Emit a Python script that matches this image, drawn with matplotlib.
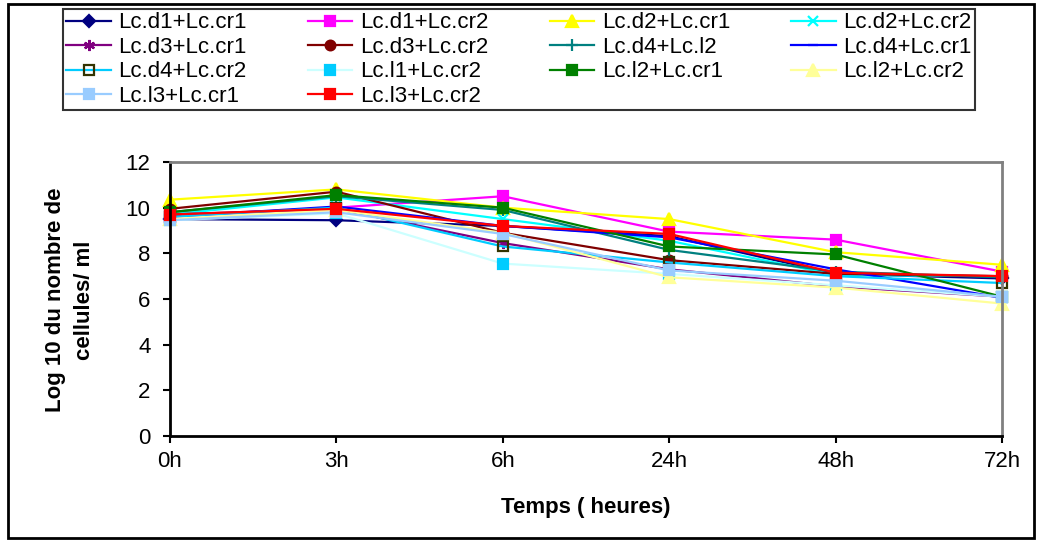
import matplotlib
matplotlib.use("Agg")
import matplotlib.pyplot as plt
from matplotlib.patches import Rectangle

plt.rcParams['font.family'] = ['Liberation Sans', 'DejaVu Sans']

times = ["0h", "3h", "6h", "24h", "48h", "72h"]

d1_cr1 = [9.5, 9.45, 9.2, 8.75, 7.1, 6.9]
d1_cr2 = [9.6, 10.0, 10.5, 8.95, 8.6, 7.2]
d2_cr1 = [10.35, 10.8, 10.0, 9.5, 8.05, 7.5]
d2_cr2 = [9.7, 10.45, 9.5, 8.55, 7.05, 7.0]
d3_cr1 = [9.7, 9.95, 8.45, 7.3, 6.55, 6.1]
d3_cr2 = [9.95, 10.7, 8.9, 7.7, 7.1, 7.0]
d4_l2 = [9.8, 10.5, 9.9, 8.15, 7.2, 6.95]
d4_cr1 = [9.6, 10.05, 9.2, 8.7, 7.3, 6.05]
d4_cr2 = [9.6, 10.0, 8.3, 7.6, 7.0, 6.7]
l1_cr2 = [9.45, 9.75, 7.55, 7.1, 6.6, 6.1]
l2_cr1 = [9.8, 10.55, 10.0, 8.3, 7.95, 6.1]
l2_cr2 = [9.5, 9.9, 8.9, 6.95, 6.5, 5.8]
l3_cr1 = [9.45, 9.8, 8.85, 7.25, 6.8, 6.1]
l3_cr2 = [9.7, 9.95, 9.2, 8.85, 7.15, 7.0]

names = ["Lc.d1+Lc.cr1", "Lc.d1+Lc.cr2", "Lc.d2+Lc.cr1", "Lc.d2+Lc.cr2",
         "Lc.d3+Lc.cr1", "Lc.d3+Lc.cr2", "Lc.d4+Lc.l2", "Lc.d4+Lc.cr1",
         "Lc.d4+Lc.cr2", "Lc.l1+Lc.cr2", "Lc.l2+Lc.cr1", "Lc.l2+Lc.cr2",
         "Lc.l3+Lc.cr1", "Lc.l3+Lc.cr2"]
series = [d1_cr1, d1_cr2, d2_cr1, d2_cr2, d3_cr1, d3_cr2, d4_l2, d4_cr1,
          d4_cr2, l1_cr2, l2_cr1, l2_cr2, l3_cr1, l3_cr2]

# (line colour, marker, marker face, marker edge, marker size)
styles = [
    ("#000080", "D", "#000080", "#000080", 6),
    ("#FF00FF", "s", "#FF00FF", "#FF00FF", 7),
    ("#FFFF00", "^", "#FFFF00", "#FFFF00", 9),
    ("#00FFFF", "x", "#00FFFF", "#00FFFF", 7),
    ("#800080", (6, 2, 0), "#800080", "#800080", 8),
    ("#800000", "o", "#800000", "#800000", 7),
    ("#008080", "+", "#008080", "#008080", 8),
    ("#0000FF", "_", "#0000FF", "#0000FF", 7),
    ("#00CCFF", "s", "none", "#333300", 7),
    ("#CCFFFF", "s", "#00CCFF", "#00CCFF", 7),
    ("#008000", "s", "#008000", "#008000", 7),
    ("#FFFF99", "^", "#FFFF99", "#FFFF99", 9),
    ("#99CCFF", "s", "#99CCFF", "#99CCFF", 7),
    ("#FF0000", "s", "#FF0000", "#FF0000", 7),
]

fig = plt.figure(figsize=(10.4, 5.4), dpi=100)
ax = fig.add_axes([170/1040, 1-436/540, (1002-170)/1040, (436-162)/540])

x = list(range(len(times)))
handles = []
for name, vals, (lc, mk, mf, me, ms) in zip(names, series, styles):
    h, = ax.plot(x, vals, color=lc, lw=1.6, marker=mk, markerfacecolor=mf,
                 markeredgecolor=me, markersize=ms, markeredgewidth=1.6,
                 label=name, clip_on=False)
    handles.append(h)

ax.set_xlim(0, 5)
ax.set_ylim(0, 12)
ax.set_yticks(range(0, 13, 2))
ax.set_xticks(x)
ax.set_xticklabels(times)
ax.tick_params(axis='both', labelsize=16, direction='out', length=5, width=1.5,
               colors='black')
ax.tick_params(axis='x', pad=6)
ax.tick_params(axis='y', pad=9)
for s in ['left', 'bottom']:
    ax.spines[s].set_color('black')
    ax.spines[s].set_linewidth(2)
for s in ['top', 'right']:
    ax.spines[s].set_color('#808080')
    ax.spines[s].set_linewidth(2)

fig.text(586/1040, 1-508/540, "Temps ( heures)", ha='center', va='center',
         fontsize=16, fontweight='bold')
fig.text(70/1040, 1-300/540, "Log 10 du nombre de\ncellules/ ml", rotation=90,
         ha='center', va='center', fontsize=16, fontweight='bold',
         multialignment='center', linespacing=1.45)

order = [0, 4, 8, 12, 1, 5, 9, 13, 2, 6, 10, 3, 7, 11]
leg = fig.legend([handles[i] for i in order], [names[i] for i in order],
                 loc='upper left',
                 bbox_to_anchor=(63/1040, 1-9/540, 912/1040, 0),
                 mode='expand',
                 ncol=4, fontsize=16, frameon=True, fancybox=False,
                 edgecolor='black', handlelength=2.0, handletextpad=0.35,
                 columnspacing=0.5, labelspacing=0.16, borderpad=0.15,
                 borderaxespad=0)
leg.get_frame().set_linewidth(1.5)

fig.patches.append(Rectangle((8/1040, 2/540), 1026/1040, 534/540,
                             transform=fig.transFigure, fill=False,
                             edgecolor='black', lw=2))

fig.savefig("out.png", dpi=100)
